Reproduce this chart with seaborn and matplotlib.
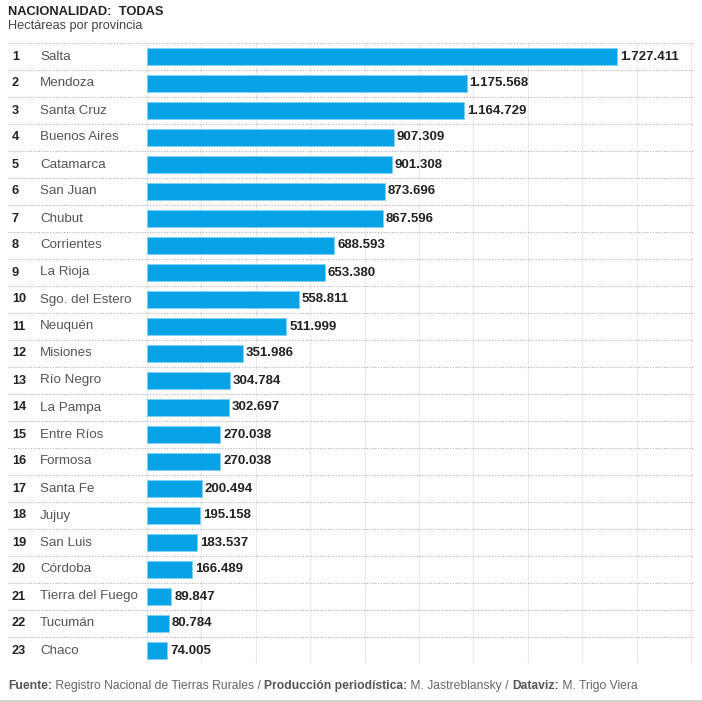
import numpy as np
import pandas as pd
import seaborn as sns
import matplotlib.pyplot as plt
from matplotlib.lines import Line2D

provincias = [
    "Salta", "Mendoza", "Santa Cruz", "Buenos Aires", "Catamarca", "San Juan",
    "Chubut", "Corrientes", "La Rioja", "Sgo. del Estero", "Neuquén", "Misiones",
    "Río Negro", "La Pampa", "Entre Ríos", "Formosa", "Santa Fe", "Jujuy",
    "San Luis", "Córdoba", "Tierra del Fuego", "Tucumán", "Chaco",
]
hectareas = [
    1727411, 1175568, 1164729, 907309, 901308, 873696, 867596, 688593, 653380,
    558811, 511999, 351986, 304784, 302697, 270038, 270038, 200494, 195158,
    183537, 166489, 89847, 80784, 74005,
]
ranking = list(range(1, len(provincias) + 1))
grid_ticks = list(range(0, 2000001, 200000))

titulo = "NACIONALIDAD:  TODAS"
subtitulo = "Hectáreas por provincia"
fuente = [
    ("Fuente:", True), (" Registro Nacional de Tierras Rurales / ", False),
    ("Producción periodística:", True), (" M. Jastreblansky / ", False),
    ("Dataviz:", True), (" M. Trigo Viera", False),
]

df = pd.DataFrame({"provincia": provincias, "ha": hectareas, "rank": ranking})

sns.set_theme(style="white")
plt.rcParams["font.family"] = ["Liberation Sans", "DejaVu Sans"]

W = H = 702
fig = plt.figure(figsize=(W / 100, H / 100), dpi=100)
ax = fig.add_axes([8 / W, 1 - 664 / H, 685 / W, 621 / H])

bar_color = "#08a3e6"
sns.barplot(data=df, x="ha", y="provincia", orient="h", color=bar_color,
            width=0.6, saturation=1, edgecolor="#7fd0f2", linewidth=0.6, ax=ax)

ax.set_xlim(-511000, 2007000)
ax.set_ylim(len(df) - 0.5, -0.5)
ax.set_xlabel("")
ax.set_ylabel("")
ax.set_xticks([])
ax.set_yticks([])
for s in ax.spines.values():
    s.set_visible(False)

# grid
ax.vlines(grid_ticks, -0.5, len(df) - 0.5, color="#ebebeb", lw=0.9, zorder=0)
ax.hlines(np.arange(-0.5, len(df)), -511000, 2007000, color="#b0b0b0",
          lw=0.8, linestyles=(0, (1, 1.5)), zorder=0)

tr = ax.get_yaxis_transform()
for i, row in df.iterrows():
    ax.text(4 / 685, i, str(row["rank"]), transform=tr, ha="left", va="center",
            fontsize=9.2, fontweight="bold", color="#222222")
    ax.text(32 / 685, i, row["provincia"], transform=tr, ha="left", va="center",
            fontsize=9.6, color="#555555")
    lbl = f"{row['ha']:,}".replace(",", ".")
    ax.annotate(lbl, (row["ha"], i), xytext=(2, 0), textcoords="offset points",
                ha="left", va="center", fontsize=9.5, fontweight="bold",
                color="#222222")

fig.text(8 / W, 1 - 12 / H, titulo, ha="left", va="center", fontsize=9.3,
         fontweight="bold", color="#222222")
fig.text(8 / W, 1 - 26 / H, subtitulo, ha="left", va="center", fontsize=9.2,
         color="#444444")

# footer with mixed weights
fig.canvas.draw()
renderer = fig.canvas.get_renderer()
x = 8
for txt, bold in fuente:
    t = fig.text(x / W, 1 - 686 / H, txt, ha="left", va="center", fontsize=8.7,
                 fontweight="bold" if bold else "normal",
                 color="#555555" if bold else "#666666")
    x = t.get_window_extent(renderer).x1

fig.add_artist(Line2D([0, 1], [1 - 700.5 / H] * 2, color="#d0d0d0", lw=2,
                      transform=fig.transFigure))

fig.savefig("out.png", dpi=100, facecolor="white")
